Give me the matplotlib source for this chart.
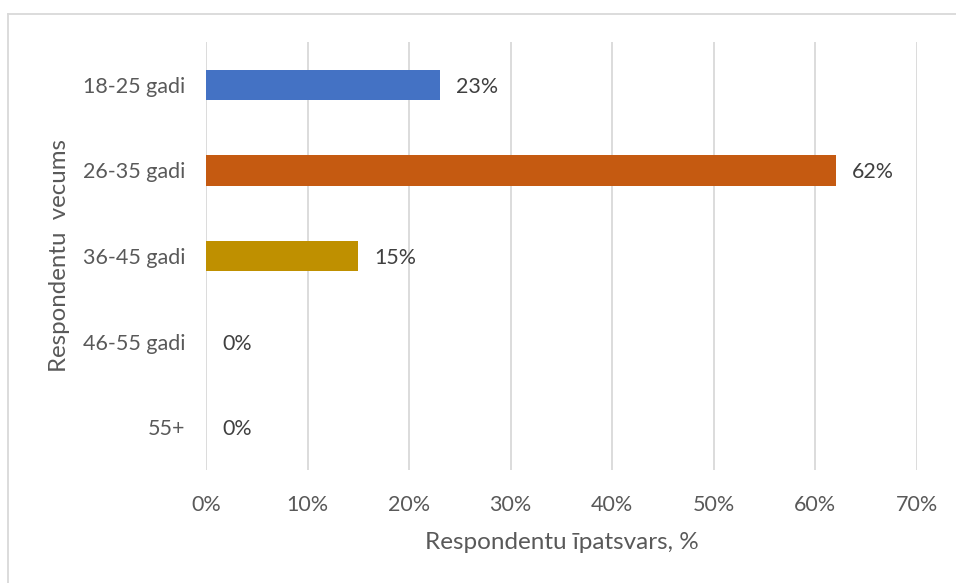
import matplotlib
matplotlib.use("Agg")
import matplotlib.pyplot as plt
from matplotlib.lines import Line2D

categories = ["18-25 gadi", "26-35 gadi", "36-45 gadi", "46-55 gadi", "55+"]
values = [23, 62, 15, 0, 0]
colors = ["#4472C4", "#C55A11", "#BF9000", "#A5A5A5", "#5B9BD5"]
xticks = [0, 10, 20, 30, 40, 50, 60, 70]
xlabel = "Respondentu īpatsvars, %"
ylabel = "Respondentu  vecums"

plt.rcParams["font.family"] = ["Lato", "DejaVu Sans"]
text_color = "#595959"

W, H = 956, 583
fig = plt.figure(figsize=(W / 100, H / 100), dpi=100)
ax = fig.add_axes([206 / W, 1 - 470 / H, (917 - 206) / W, (470 - 42) / H])

ypos = list(range(len(categories)))
ax.barh(ypos, values, height=0.355, color=colors, zorder=3)
ax.set_ylim(len(categories) - 0.5, -0.5)
ax.set_xlim(0, 70)

for y, v in zip(ypos, values):
    ax.annotate(f"{v}%", xy=(v, y), xytext=(11.5, -1.5), textcoords="offset points",
                ha="left", va="center", fontsize=15.4, color="#404040")

ax.set_xticks(xticks)
ax.set_xticklabels([f"{t}%" for t in xticks])
ax.set_yticks(ypos)
ax.set_yticklabels(categories)
ax.tick_params(axis="both", length=0, labelsize=15.5, labelcolor=text_color)
ax.tick_params(axis="x", pad=18)
ax.tick_params(axis="y", pad=15)
ax.grid(axis="x", color="#D9D9D9", linewidth=1.3, zorder=0)
for s in ax.spines.values():
    s.set_visible(False)

ax.set_xlabel(xlabel, fontsize=17.5, color=text_color, labelpad=12)
ax.set_ylabel(ylabel, fontsize=17.3, color=text_color, labelpad=9)

# chart area frame
fig.add_artist(Line2D([7.5 / W, 1], [1 - 13.5 / H] * 2, transform=fig.transFigure,
                      color="#D9D9D9", linewidth=1.3))
fig.add_artist(Line2D([7.5 / W] * 2, [0, 1 - 13.5 / H], transform=fig.transFigure,
                      color="#D9D9D9", linewidth=1.3))

fig.savefig("out.png", dpi=100)
